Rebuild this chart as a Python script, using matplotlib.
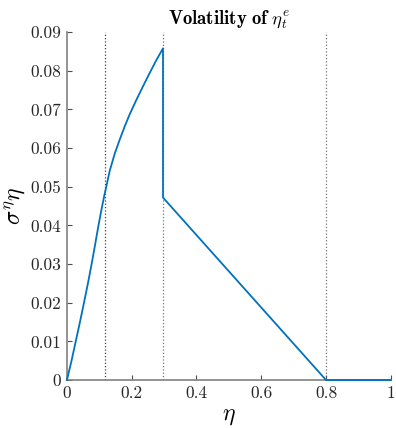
import matplotlib
matplotlib.use('Agg')
import matplotlib.pyplot as plt

plt.rcParams['font.family'] = 'serif'
plt.rcParams['font.serif'] = ['cmr10', 'DejaVu Serif']
plt.rcParams['mathtext.fontset'] = 'cm'
plt.rcParams['axes.unicode_minus'] = False

# curve
eta = [0.0, 0.0142, 0.0264, 0.0397, 0.0519, 0.0641, 0.0753, 0.0855, 0.0957, 0.1059, 0.1161,
       0.1324, 0.1477, 0.1630, 0.1783, 0.1936, 0.2140, 0.2344, 0.2547, 0.2751, 0.2966,
       0.2966, 0.8, 1.0]
vol = [0.0, 0.0050, 0.0097, 0.0148, 0.0197, 0.0247, 0.0296, 0.0343, 0.0392, 0.0438, 0.0480,
       0.0542, 0.0586, 0.0622, 0.0656, 0.0687, 0.0724, 0.0759, 0.0793, 0.0826, 0.0858,
       0.0472, 0.0, 0.0]

# regime boundaries (dotted lines)
bounds = [0.117, 0.297, 0.8]

xticks = [0, 0.2, 0.4, 0.6, 0.8, 1]
xlabels = ['0', '0.2', '0.4', '0.6', '0.8', '1']
yticks = [0, 0.01, 0.02, 0.03, 0.04, 0.05, 0.06, 0.07, 0.08, 0.09]
ylabels = ['0', '0.01', '0.02', '0.03', '0.04', '0.05', '0.06', '0.07', '0.08', '0.09']

fig = plt.figure(figsize=(3.96, 4.28), dpi=100)
ax = fig.add_axes([0.169, 0.112, 0.818, 0.813])

for i, b in enumerate(bounds):
    ax.axvline(b, color='0.25' if i == 0 else '0.45', ls=':', lw=0.9, zorder=1)

ax.plot(eta, vol, color='#0072BD', lw=1.3, clip_on=False, zorder=4)

ax.set_xlim(0, 1)
ax.set_ylim(0, 0.09)
ax.set_xticks(xticks)
ax.set_xticklabels(xlabels)
ax.set_yticks(yticks)
ax.set_yticklabels(ylabels)

for s in ['top', 'right']:
    ax.spines[s].set_visible(False)
for s in ['left', 'bottom']:
    ax.spines[s].set_color('0.5')
    ax.spines[s].set_linewidth(1.2)
ax.tick_params(direction='in', length=3.5, width=0.8, color='0.3',
               labelsize=12.5, labelcolor='0.15', pad=4)

ax.set_title(r'$\mathbf{Volatility\ of}\ \boldsymbol{\eta^e_t}$', fontsize=13.5, pad=6)
ax.set_xlabel(r'$\eta$', fontsize=17, labelpad=3)
ax.set_ylabel(r'$\sigma^\eta\eta$', fontsize=17, labelpad=2)

fig.savefig('out.png', dpi=100)
